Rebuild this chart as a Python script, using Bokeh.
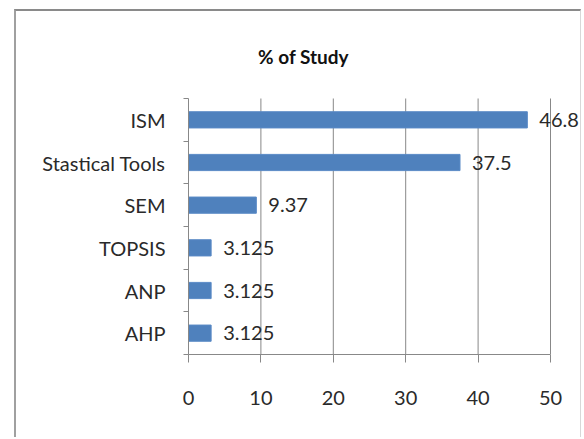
from bokeh.plotting import figure
from bokeh.models import ColumnDataSource, FixedTicker, LabelSet, Label, Range1d
from bokeh.core.properties import value
from bokeh.embed import file_html
from bokeh.resources import INLINE

categories = ["AHP", "ANP", "TOPSIS", "SEM", "Stastical Tools", "ISM"]
values = [3.125, 3.125, 3.125, 9.37, 37.5, 46.8]
value_labels = ["3.125", "3.125", "3.125", "9.37", "37.5", "46.8"]
x_ticks = [0, 10, 20, 30, 40, 50]
title_text = "% of Study"

FONT = "Lato"
TEXT_COLOR = "#2a2a2a"
AXIS_COLOR = "#888888"
BAR_COLOR = "#4F81BD"

n = len(categories)
x_max = x_ticks[-1]

# pixel layout (page coordinates of the chart pieces)
OX, OY, W, H = 16, 11, 567, 428          # figure origin and size
AX_L, AX_R, AX_T, AX_B = 188, 550, 98, 354  # value axis 0..50, category band area
FR_R, FR_T = 582, 20                       # extended frame so labels/title are not clipped
px_x = (AX_R - AX_L) / x_max
px_y = (AX_B - AX_T) / n

ypos = [i + 0.5 for i in range(n)]
src = ColumnDataSource(dict(y=ypos, v=values, lab=value_labels, cat=categories))

p = figure(width=W, height=H, output_backend="svg", toolbar_location=None,
           x_range=Range1d(0, (FR_R - AX_L) / px_x),
           y_range=Range1d(0, (AX_B - FR_T) / px_y),
           min_border_left=AX_L - OX, min_border_right=OX + W - FR_R,
           min_border_top=FR_T - OY, min_border_bottom=OY + H - AX_B,
           styles={"margin-left": "14px", "margin-top": "9px",
                   "border-top": "2px solid #8a8a8a",
                   "border-left": "2px solid #a0a0a0",
                   "border-right": "1px solid #d8d8d8"})

# vertical grid lines at the tick values
p.segment(x0=x_ticks[1:], x1=x_ticks[1:], y0=0, y1=n, line_color=AXIS_COLOR, line_width=1)

p.hbar(y="y", right="v", left=0, height=0.38, source=src,
       fill_color=BAR_COLOR, line_color="#5a8ac6", line_width=1)

# x axis
xa = p.xaxis[0]
xa.bounds = (0, x_max)
xa.ticker = FixedTicker(ticks=x_ticks)
xa.axis_line_color = AXIS_COLOR
xa.major_tick_line_color = AXIS_COLOR
xa.major_tick_out = 8
xa.major_tick_in = 0
xa.minor_tick_line_color = None
xa.major_label_text_font = FONT
xa.major_label_text_font_size = "20px"
xa.major_label_text_color = TEXT_COLOR
xa.major_label_standoff = 28

# y axis
ya = p.yaxis[0]
ya.bounds = (0, n)
ya.ticker = FixedTicker(ticks=ypos, minor_ticks=list(range(n + 1)))
ya.major_label_overrides = {y: c for y, c in zip(ypos, categories)}
ya.axis_line_color = AXIS_COLOR
ya.major_tick_line_color = None
ya.major_tick_out = 0
ya.major_tick_in = 0
ya.minor_tick_line_color = AXIS_COLOR
ya.minor_tick_out = 5
ya.minor_tick_in = 0
ya.major_label_text_font = FONT
ya.major_label_text_font_size = "20px"
ya.major_label_text_color = TEXT_COLOR
ya.major_label_standoff = 18

p.xgrid.grid_line_color = None
p.ygrid.grid_line_color = None
p.outline_line_color = None

labels = LabelSet(x="v", y="y", text="lab", x_offset=12, source=src,
                  text_baseline="middle", text_font=value(FONT), text_font_size=value("20px"),
                  text_color=TEXT_COLOR)
p.add_layout(labels)

title = Label(x=(303 - AX_L) / px_x, y=(AX_B - 56) / px_y, text=title_text,
              text_align="center", text_baseline="middle",
              text_font=FONT, text_font_style="bold", text_font_size="19px", text_color="#111111")
p.add_layout(title)

open("out.html", "w").write(file_html(p, INLINE))
